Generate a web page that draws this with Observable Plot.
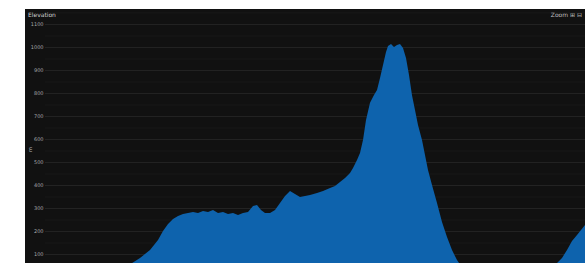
<!DOCTYPE html>
<html>
<head>
<meta charset="utf-8">
<script src="https://cdn.jsdelivr.net/npm/d3@7"></script>
<script src="https://cdn.jsdelivr.net/npm/@observablehq/plot@0.6"></script>
<style>
  html, body { margin: 0; padding: 0; background: #fff; overflow: hidden; width: 585px; height: 263px; }
  #panel { position: absolute; left: 25px; top: 9px; width: 560px; height: 254px; background: #111111; overflow: hidden; }
  #title { position: absolute; left: 3px; top: 2px; font: 6px "DejaVu Sans", sans-serif; color: #d0d0d0; z-index: 2; }
  #tools { position: absolute; right: 3px; top: 2px; font: 6px "DejaVu Sans", sans-serif; color: #bdbdbd; z-index: 2; }
  #ylab { position: absolute; left: 2px; top: 143px; font: 5px "DejaVu Sans", sans-serif; color: #bbb; transform: rotate(-90deg); transform-origin: left top; z-index: 2; }
  #chart { position: absolute; left: 0; top: 0; }
</style>
</head>
<body>
<div id="panel">
  <div id="title">Elevation</div>
  <div id="tools">Zoom ⊞ ⊟</div>
  <div id="ylab">m</div>
  <div id="chart"></div>
</div>
<script>
// distance along route (km)
const distance = [0, 4, 7, 8.5, 9.5, 10.5, 11.3, 11.8, 12.3, 12.8, 13.3, 13.8, 14.3, 14.8, 15.3, 15.8,
  16.3, 16.8, 17.3, 17.8, 18.3, 18.8, 19.3, 19.8, 20.3, 20.8, 21.2, 21.6, 22.0, 22.5, 23.0, 23.5,
  24.0, 24.5, 25.0, 25.5, 26.0, 26.5, 27.2, 27.8, 28.5, 29.0, 29.5, 30.0, 30.5, 30.8, 31.2, 31.5,
  31.8, 32.1, 32.5, 32.9, 33.2, 33.5, 33.8, 34.1, 34.3, 34.6, 34.9, 35.2, 35.5, 35.8, 36.1, 36.4,
  36.7, 37.0, 37.3, 37.7, 38.0, 38.3, 38.7, 39.2, 39.7, 40.2, 40.7, 41.2, 41.5, 42.5, 46, 50,
  51.2, 51.7, 52.2, 52.7, 53.2, 53.6, 54.0];
// elevation (m)
const elevation = [15, 20, 35, 55, 83, 117, 161, 200, 230, 252, 265, 274, 278, 283, 278, 287,
  283, 291, 278, 283, 274, 278, 270, 278, 283, 309, 313, 291, 278, 278, 291, 322,
  352, 374, 361, 348, 352, 357, 365, 374, 387, 396, 413, 430, 452, 474, 509, 539,
  596, 683, 757, 791, 813, 865, 922, 978, 1004, 1013, 1000, 1009, 1013, 996, 952, 878,
  790, 726, 661, 596, 530, 465, 400, 322, 239, 174, 117, 74, 55, 30, 22, 25,
  61, 83, 117, 157, 183, 204, 226];
// y-axis ticks
const yTicks = [100, 200, 300, 400, 500, 600, 700, 800, 900, 1000, 1100];
const yMinor = [150, 250, 350, 450, 550, 650, 750, 850, 950, 1050, 1150];

const data = distance.map((d, i) => ({km: d, ele: elevation[i]}));

const chart = Plot.plot({
  width: 560,
  height: 254,
  marginTop: 0,
  marginBottom: 0,
  marginLeft: 20,
  marginRight: 0,
  style: {background: "transparent", color: "#9a9a9a", fontSize: "5px", fontFamily: "DejaVu Sans, sans-serif"},
  x: {domain: [0, 54], axis: null},
  y: {domain: [61, 1165], axis: null},
  marks: [
    Plot.gridY(yMinor, {stroke: "#ffffff", strokeOpacity: 0.035}),
    Plot.gridY(yTicks, {stroke: "#ffffff", strokeOpacity: 0.08}),
    Plot.areaY(data, {x: "km", y: "ele", fill: "#0e63ad", clip: true}),
    Plot.axisY(yTicks, {tickSize: 0, tickPadding: 2, tickFormat: d3.format("d"), fill: "#a8a8a8", fontSize: 5, label: null})
  ]
});
document.getElementById("chart").appendChild(chart);
</script>
</body>
</html>
